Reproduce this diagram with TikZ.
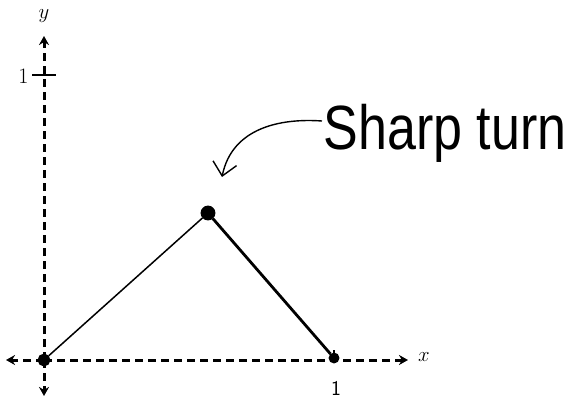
\documentclass[tikz,border=0pt]{standalone}
\usepackage{fontspec}
\newfontfamily\handfont{Liberation Sans}
\usetikzlibrary{arrows.meta}
\begin{document}
\begin{tikzpicture}[x=1pt,y=-1pt,
  axis/.style={line width=3pt,dash pattern=on 8pt off 5pt,-{Stealth[length=9pt,width=10pt]}},
  seg/.style={line width=1.5pt},
  segthick/.style={line width=2.8pt},
  pt/.style={circle,draw,fill=black,line width=1.8pt,minimum size=11pt,inner sep=0pt},
  lbl/.style={font=\fontsize{22}{22}\selectfont},
  curvearrow/.style={line width=1.4pt,-{Straight Barb[length=13pt,width=24pt]}}]
\useasboundingbox (0,0) rectangle (573,398);
\coordinate (O) at (44,360);
\coordinate (xl) at (6,360);
\coordinate (xr) at (408,360);
\coordinate (yt) at (44,36);
\coordinate (yb) at (44,396);
\draw[axis] (O) -- (xr);
\draw[axis] (O) -- (xl);
\draw[axis] (O) -- (yt);
\draw[axis] (O) -- (yb);
\coordinate (ty) at (44,75);
\coordinate (tx) at (334,360);
\draw[line width=2.5pt] ([xshift=-12pt]ty) -- ([xshift=12pt]ty);
\draw[line width=2pt] (tx) -- ([yshift=10pt]tx);
\node[lbl,anchor=east] (one_y) at (32,76) {1};
\node[font=\sffamily\fontsize{21}{21}\selectfont] (one_x) at (336,388) {1};
\node[lbl] (ylab) at (44,16) {$y$};
\node[lbl] (xlab) at (424,357) {$x$};
\node[pt] (A) at (44,360) {};
\node[pt,minimum size=13pt] (B) at (208,213) {};
\node[pt,minimum size=9pt] (C) at (334,358) {};
\draw[seg] (A) -- (B);
\draw[segthick] (B) -- (C);
\node[font=\handfont\fontsize{50}{50}\selectfont,anchor=west,xscale=1.04,yscale=1.25] (txt) at (320,133) {Sharp turn};
\coordinate (cs) at (322,121);
\coordinate (ce) at (222,177);
\draw[curvearrow] (cs) .. controls (280,118) and (232,128) .. (ce);
\end{tikzpicture}
\end{document}
